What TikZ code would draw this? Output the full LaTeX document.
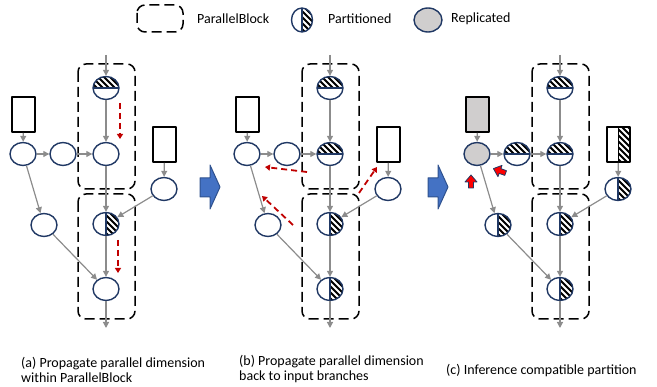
\documentclass[tikz,border=0pt]{standalone}
\usepackage{fontspec}
\setmainfont{Carlito}
\usetikzlibrary{shapes.geometric,arrows.meta}

\definecolor{navy}{HTML}{203864}
\definecolor{flowgray}{HTML}{8C8C8C}
\definecolor{repl}{HTML}{D0CECE}
\definecolor{blockblue}{HTML}{4472C4}
\definecolor{blockedge}{HTML}{2F528F}
\definecolor{hintred}{HTML}{C00000}

\tikzset{
  op/.style={ellipse, draw=navy, line width=1.4pt, fill=white,
    minimum width=26pt, minimum height=23pt, inner sep=0pt},
  tensor/.style={rectangle, draw=black, line width=1.8pt, fill=white,
    minimum width=23pt, minimum height=35pt, inner sep=0pt},
  stripes/.style={white, line width=2.1pt},
  hatchtop/.style={path picture={
      \begin{scope}
        \clip (path picture bounding box.north west) rectangle (path picture bounding box.east);
        \fill[black] (path picture bounding box.north west) rectangle (path picture bounding box.south east);
        \foreach \s in {-42,-36,...,42}
          \draw[stripes] ([shift={(\s,0)}]path picture bounding box.center) ++(-30,-30) -- ++(60,60);
      \end{scope}
      \draw[#1, line width=1.4pt] (path picture bounding box.west) -- (path picture bounding box.east);}},
  hatchtop/.default=navy,
  hatchright/.style={path picture={
      \begin{scope}
        \clip (path picture bounding box.north) rectangle (path picture bounding box.south east);
        \fill[black] (path picture bounding box.north west) rectangle (path picture bounding box.south east);
        \foreach \s in {-42,-36,...,42}
          \draw[stripes] ([shift={(\s,0)}]path picture bounding box.center) ++(-30,-30) -- ++(60,60);
      \end{scope}
      \draw[#1, line width=1.4pt] (path picture bounding box.north) -- (path picture bounding box.south);}},
  hatchright/.default=navy,
  flow/.style={draw=flowgray, line width=1.2pt, -{Triangle[length=6pt,width=6pt]}},
  hint/.style={draw=hintred, line width=1.8pt, dash pattern=on 6pt off 4pt,
    -{Triangle[length=5pt,width=6pt]}},
  pblock/.style={draw=black, line width=1.5pt, dash pattern=on 10pt off 5pt, rounded corners=8pt},
  bigarrow/.style={fill=blockblue, draw=blockedge, line width=1pt},
  fixarrow/.style={fill=red, draw=navy, line width=0.8pt},
  caption/.style={anchor=west, align=left, inner sep=0pt},
  % per panel looks of the nodes
  sT/.style={}, sR/.style={}, sL1/.style={}, sL2/.style={}, sL3/.style={}, sR1/.style={},
  sM1/.style={}, sM2/.style={}, sM3/.style={}, sM4/.style={}
}

% one panel: two ParallelBlocks, input branches, main chain
\newcommand{\drawpanel}[1]{%
  \draw[pblock] (78,64) rectangle (135,189);
  \draw[pblock] (78,194) rectangle (135,319);
  \node[tensor,sT] (#1T) at (23.5,114.5) {};
  \node[tensor,sR] (#1R) at (164.5,144.5) {};
  \node[op,sL1] (#1L1) at (23,154) {};
  \node[op,sL2] (#1L2) at (63,154) {};
  \node[op,sL3] (#1L3) at (44,225) {};
  \node[op,sR1] (#1R1) at (164,189) {};
  \node[op,sM1] (#1M1) at (106,88) {};
  \node[op,sM2] (#1M2) at (106,154) {};
  \node[op,sM3] (#1M3) at (106,224) {};
  \node[op,sM4] (#1M4) at (106,289) {};
  \coordinate (#1In) at (106,55);
  \coordinate (#1Out) at (106,328);
  \draw[flow] (#1In) -- (#1M1);
  \draw[flow] (#1M1) -- (#1M2);
  \draw[flow] (#1M2) -- (#1M3);
  \draw[flow] (#1M3) -- (#1M4);
  \draw[flow] (#1M4) -- (#1Out);
  \draw[flow] (#1T) -- (#1L1);
  \draw[flow] (#1L1) -- (#1L2);
  \draw[flow] (#1L2) -- (#1M2);
  \draw[flow] (#1L1) -- (#1L3);
  \draw[flow] (#1L3) -- (#1M4);
  \draw[flow] (#1R) -- (#1R1);
  \draw[flow] (#1R1) -- (#1M3);
}

\newcommand{\panelarrow}[1]{%
  \draw[bigarrow, shift={(#1,0)}] (200,178) -- (210,178) -- (210,165) -- (220,187)
    -- (210,209) -- (210,197) -- (200,197) -- cycle;
}

\newcommand{\fixmark}[2]{%
  \draw[fixarrow, shift={#1}, rotate=#2] (-6,-2.5) -- (0,-2.5) -- (0,-6) -- (7,0)
    -- (0,6) -- (0,2.5) -- (-6,2.5) -- cycle;
}

\begin{document}
\begin{tikzpicture}[x=1pt, y=-1pt, font=\fontsize{14}{15}\selectfont,
    line join=round]
  \useasboundingbox (0,0) rectangle (657,387);

  % legend
  \draw[pblock] (137,5) rectangle (183,32);
  \node[anchor=west, inner sep=0pt] (legBlock) at (197,19) {ParallelBlock};
  \node[op, hatchright, minimum width=21pt, minimum height=24pt] (legPart) at (302,20) {};
  \node[anchor=west, inner sep=0pt] (legPartTxt) at (328,19) {Partitioned};
  \node[op, fill=repl, minimum width=28pt, minimum height=24pt] (legRepl) at (428,20) {};
  \node[anchor=west, inner sep=0pt] (legReplTxt) at (451,19) {Replicated};

  % (a)
  \begin{scope}[sM1/.style=hatchtop, sM3/.style=hatchright]
    \drawpanel{a}
  \end{scope}
  \draw[hint] (120,103) -- (120,139);
  \draw[hint] (118,240) -- (118,273);

  \panelarrow{0}

  % (b)
  \begin{scope}[shift={(224,0)}, sM1/.style=hatchtop, sM2/.style=hatchtop,
      sM3/.style=hatchright, sM4/.style=hatchright]
    \drawpanel{b}
  \end{scope}
  \draw[hint] (307,172) -- (265,167);
  \draw[hint] (293,225) -- (262,196);
  \draw[hint] (359,193) -- (377,167);

  \panelarrow{228}

  % (c)
  \begin{scope}[shift={(454,0)}, sM1/.style=hatchtop, sM2/.style=hatchtop,
      sM3/.style=hatchright, sM4/.style=hatchright,
      sT/.style={fill=repl}, sL1/.style={fill=repl}, sL2/.style=hatchtop,
      sL3/.style=hatchright, sR1/.style=hatchright, sR/.style={hatchright=black}]
    \drawpanel{c}
  \end{scope}
  \fixmark{(471,182)}{90}
  \fixmark{(500,171)}{160}

  % captions
  \node[caption] (capA) at (21,369.5) {(a) Propagate parallel dimension\\within ParallelBlock};
  \node[caption] (capB) at (239,369.5) {(b) Propagate parallel dimension\\back to input branches};
  \node[caption] (capC) at (446,371) {(c) Inference compatible partition};
\end{tikzpicture}
\end{document}
